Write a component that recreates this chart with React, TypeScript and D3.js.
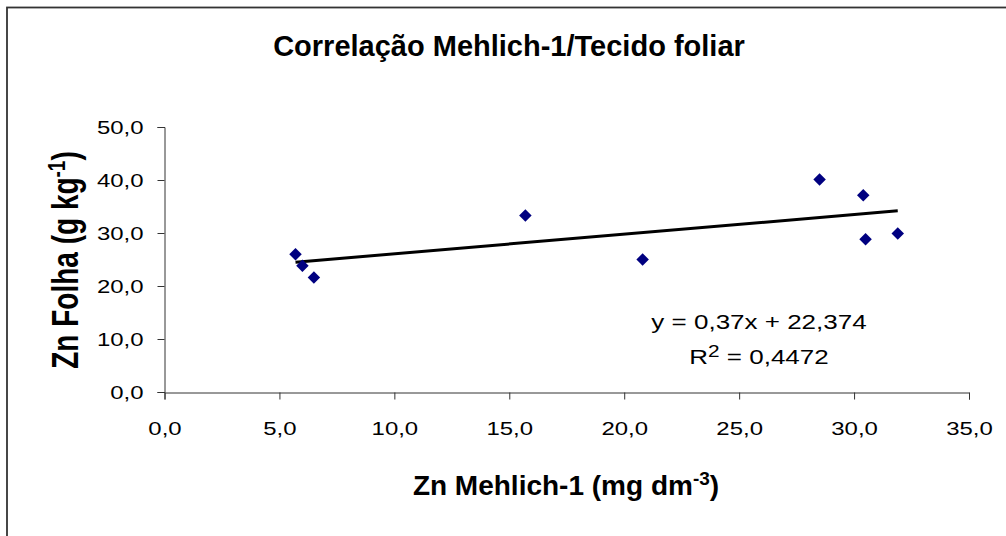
import * as d3 from 'd3';
import React, { useEffect, useRef } from 'react';

// Zn Mehlich-1 (mg dm-3) vs Zn folha (g kg-1)
const znMehlich = [5.7, 6.0, 6.5, 15.7, 20.8, 28.5, 30.4, 30.5, 31.9];
const znFolha = [26.0, 23.8, 21.6, 33.3, 25.0, 40.1, 37.1, 28.8, 29.9];
const xTicks = [0, 5, 10, 15, 20, 25, 30, 35];
const yTicks = [0, 10, 20, 30, 40, 50];
const slope = 0.37;
const intercept = 22.374;
const rSquared = '0,4472';

const W = 1006;
const H = 536;
const font = '"Liberation Sans", Arial, sans-serif';

const fmt = (v: number) => d3.format('.1f')(v).replace('.', ',');

const App = () => {
  const xAxisRef = useRef<SVGGElement>(null);
  const yAxisRef = useRef<SVGGElement>(null);

  const x = d3.scaleLinear().domain([0, 35]).range([164.5, 969]);
  const y = d3.scaleLinear().domain([0, 50]).range([392, 127]);

  useEffect(() => {
    const xAxis = d3.axisBottom(x).tickValues(xTicks).tickFormat((d) => fmt(+d)).tickSize(7).tickPadding(22);
    const yAxis = d3.axisLeft(y).tickValues(yTicks).tickFormat((d) => fmt(+d)).tickSize(7).tickPadding(14);
    const gx = d3.select(xAxisRef.current).call(xAxis);
    const gy = d3.select(yAxisRef.current).call(yAxis);
    [gx, gy].forEach((g) => {
      g.select('.domain').attr('stroke', '#333');
      g.selectAll('.tick line').attr('stroke', '#333');
      g.selectAll<SVGTextElement, unknown>('.tick text')
        .attr('fill', '#000')
        .attr('font-size', 19)
        .attr('font-family', font)
        .each(function () {
          const w = this.getComputedTextLength();
          d3.select(this).attr('textLength', w * 1.26).attr('lengthAdjust', 'spacingAndGlyphs');
        });
    });
  }, []);

  const diamond = d3.symbol(d3.symbolSquare, 78)() as string;
  const x0 = d3.min(znMehlich) as number;
  const x1 = d3.max(znMehlich) as number;
  const trend = d3.line<number>()
    .x((d) => x(d))
    .y((d) => y(slope * d + intercept))([x0, x1]) as string;

  return (
    <svg width={W} height={H} style={{ position: 'absolute', left: 0, top: 0 }} fontFamily={font}>
      <rect x={0} y={0} width={W} height={H} fill='#fff' />
      <rect x={7} y={7.5} width={W + 20} height={H + 20} fill='none' stroke='#333' strokeWidth={1.8} />

      <text x={509} y={56} textAnchor='middle' fontSize={29} fontWeight='bold'>
        Correlação Mehlich-1/Tecido foliar
      </text>

      <g ref={xAxisRef} transform={`translate(0,${y(0) + 0.5})`} />
      <g ref={yAxisRef} transform={`translate(${x(0)},0)`} />

      <path d={trend} fill='none' stroke='#000' strokeWidth={3} />

      {znMehlich.map((v, i) => (
        <path
          key={i}
          d={diamond}
          fill='#000080'
          transform={`translate(${x(v)},${y(znFolha[i])}) rotate(45)`}
        />
      ))}

      <g transform='translate(759,329) scale(1.3,1)'>
        <text textAnchor='middle' fontSize={20}>
          {`y = ${String(slope).replace('.', ',')}x + ${String(intercept).replace('.', ',')}`}
        </text>
      </g>
      <g transform='translate(759,364) scale(1.3,1)'>
        <text textAnchor='middle' fontSize={20}>
          R<tspan fontSize={16} dy={-7}>2</tspan>
          <tspan dy={7}>{` = ${rSquared}`}</tspan>
        </text>
      </g>

      <text x={566} y={495} textAnchor='middle' fontSize={28} fontWeight='bold'>
        Zn Mehlich-1 (mg dm<tspan fontSize={19} dy={-10}>-3</tspan>
        <tspan dy={10}>)</tspan>
      </text>

      <g transform='translate(78,260) scale(1.3,1) rotate(-90)'>
        <text textAnchor='middle' fontSize={28} fontWeight='bold'>
          Zn Folha (g kg<tspan fontSize={19} dy={-10}>-1</tspan>
          <tspan dy={10}>)</tspan>
        </text>
      </g>
    </svg>
  );
};

export default App;
